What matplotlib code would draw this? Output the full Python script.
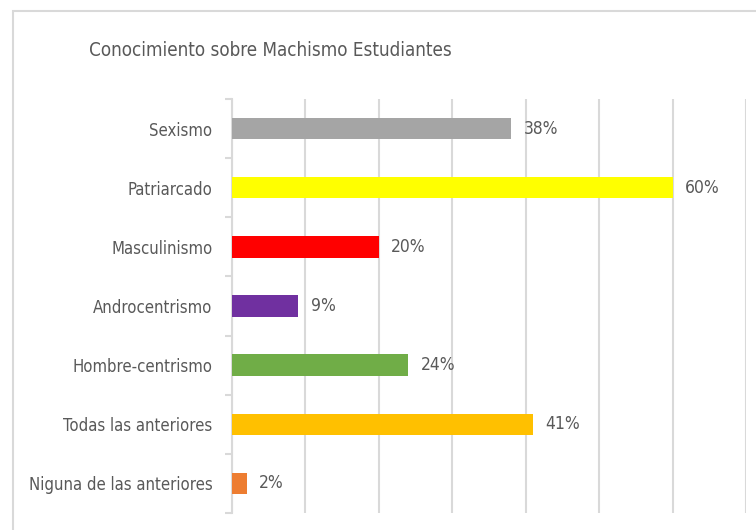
import matplotlib
matplotlib.use("Agg")
from matplotlib import pyplot as plt
from matplotlib.patches import Rectangle

# Chart data (top to bottom as shown)
categories = ["Sexismo", "Patriarcado", "Masculinismo", "Androcentrismo",
              "Hombre-centrismo", "Todas las anteriores", "Niguna de las anteriores"]
values = [38, 60, 20, 9, 24, 41, 2]
colors = ["#A5A5A5", "#FFFF00", "#FF0000", "#7030A0",
          "#70AD47", "#FFC000", "#ED7D31"]

text_col = "#595959"
grid_col = "#D9D9D9"
plt.rcParams['font.family'] = ['DejaVu Sans']
plt.rcParams['font.stretch'] = 'condensed'

fig = plt.figure(figsize=(7.56, 5.30), dpi=100)

# Light border of the chart area (runs off the right/bottom edge)
fig.patches.append(Rectangle((13 / 756, -0.1), 1.0, 1 - 11 / 530 + 0.1,
                             transform=fig.transFigure, fill=False,
                             edgecolor=grid_col, linewidth=1.5))

ax = fig.add_axes([232 / 756, 1 - 513 / 530, 514 / 756, 414 / 530])

y = list(range(len(categories)))
ax.barh(y, values, height=0.36, color=colors, zorder=3)
ax.set_ylim(len(categories) - 0.5, -0.5)
ax.set_xlim(0, 70)

# Value labels
for yi, v in zip(y, values):
    ax.annotate(f"{v}%", xy=(v, yi), xytext=(9, 0), textcoords="offset points",
                va="center", ha="left", fontsize=12.5, color=text_col,
                fontstretch='condensed')

# Gridlines
ax.set_xticks(range(0, 71, 10))
ax.xaxis.grid(True, color=grid_col, linewidth=1.5, zorder=0)
ax.tick_params(axis="x", length=0, labelbottom=False)

# Category axis with tick marks between categories
ax.set_yticks(y)
ax.set_yticklabels(categories, fontsize=12, color=text_col,
                   fontstretch='condensed')
ax.set_yticks([i - 0.5 for i in range(len(categories) + 1)], minor=True)
ax.tick_params(axis="y", which="major", length=0, pad=14)
ax.tick_params(axis="y", which="minor", length=5, color=grid_col, width=1.5)

for side in ["top", "right", "bottom"]:
    ax.spines[side].set_visible(False)
ax.spines["left"].set_color(grid_col)
ax.spines["left"].set_linewidth(1.5)

fig.text(270 / 756, 1 - 51 / 530, "Conocimiento sobre Machismo Estudiantes",
         ha="center", va="center", fontsize=13.5, color=text_col,
         fontstretch='condensed')

fig.savefig("out.png", dpi=100)
